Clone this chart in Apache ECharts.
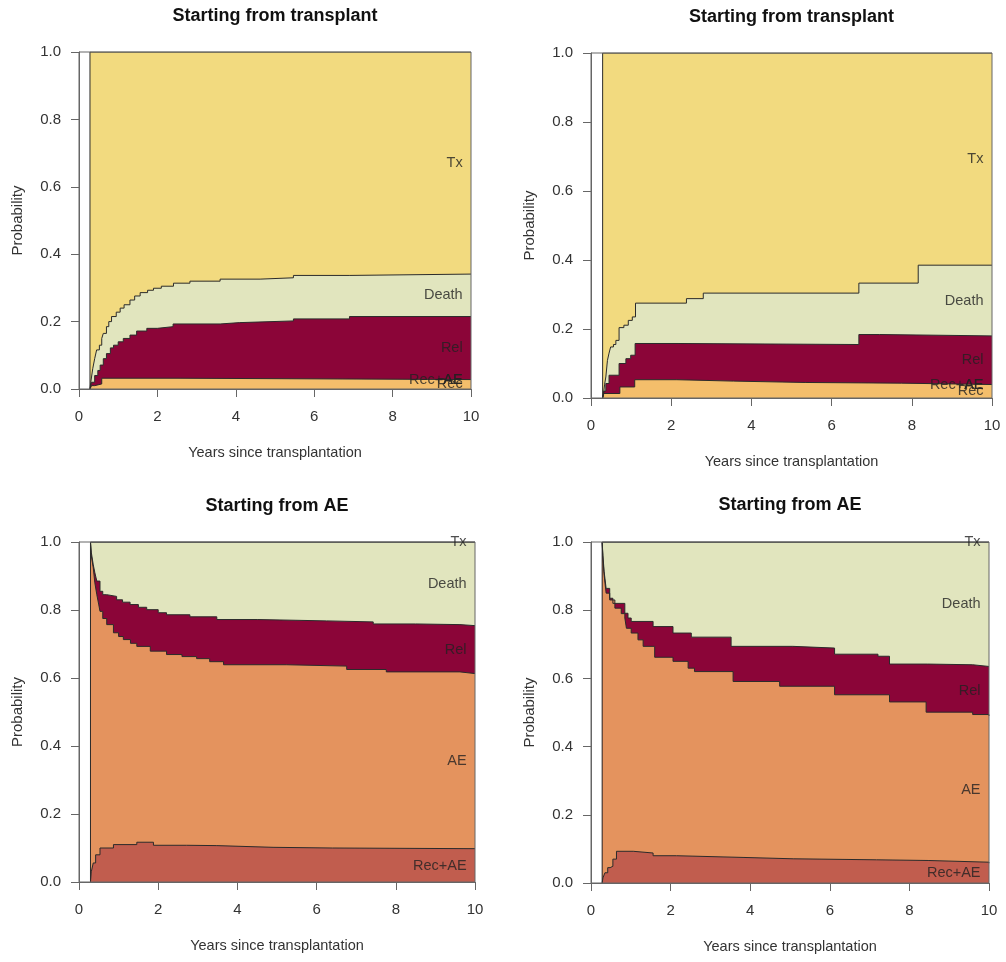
<!DOCTYPE html>
<html>
<head>
<meta charset="utf-8">
<title>Stacked transition probabilities</title>
<script src="https://cdn.jsdelivr.net/npm/echarts@6/dist/echarts.min.js"></script>
<style>
  html, body { margin: 0; padding: 0; background: #fff; }
  #chart { width: 1006px; height: 962px; }
</style>
</head>
<body>
<div id="chart"></div>
<script>
// upper boundary of each state's band, [years, cumulative probability]
// panel 1: top left, starting from transplant
const p1Rec = [[0.28, 0], [0.32, 0.01], [0.4, 0.015], [0.58, 0.032], [2.5, 0.028], [10, 0.028]];
const p1Rel = [[0.28, 0], [0.32, 0.02], [0.4, 0.04], [0.48, 0.055], [0.54, 0.071], [0.62, 0.09], [0.7, 0.105],
    [0.8, 0.122], [0.88, 0.13], [1.0, 0.14], [1.13, 0.15], [1.3, 0.16], [1.47, 0.172], [1.73, 0.18], [2.0, 0.185],
    [2.4, 0.193], [3.6, 0.197], [4.1, 0.202], [5.47, 0.208], [6.9, 0.215], [10, 0.215]];
const p1Death = [[0.28, 0], [0.3, 0.02], [0.35, 0.06], [0.4, 0.09], [0.45, 0.116], [0.52, 0.13], [0.58, 0.15],
    [0.62, 0.165], [0.7, 0.185], [0.76, 0.2], [0.83, 0.215], [0.95, 0.228], [1.05, 0.24], [1.15, 0.25],
    [1.3, 0.264], [1.42, 0.276], [1.56, 0.286], [1.75, 0.293], [1.9, 0.299], [2.1, 0.305], [2.41, 0.314],
    [2.83, 0.32], [3.6, 0.326], [4.62, 0.33], [5.47, 0.337], [6.91, 0.341], [10, 0.341]];
const p1Tx = [[0.28, 0], [0.28, 1], [10, 1]];

// panel 2: top right, starting from transplant
const p2Rec = [[0.29, 0], [0.32, 0.013], [0.72, 0.032], [1.09, 0.053], [2.14, 0.049], [3.55, 0.045],
    [5.34, 0.043], [7.74, 0.039], [10, 0.039]];
const p2Rel = [[0.29, 0], [0.32, 0.02], [0.37, 0.042], [0.45, 0.066], [0.7, 0.1], [0.87, 0.114], [0.99, 0.124],
    [1.1, 0.158], [2.17, 0.155], [6.68, 0.184], [7.2, 0.18], [10, 0.18]];
const p2Death = [[0.29, 0], [0.31, 0.01], [0.34, 0.04], [0.37, 0.061], [0.41, 0.109], [0.45, 0.13], [0.49, 0.148],
    [0.56, 0.155], [0.62, 0.167], [0.7, 0.204], [0.82, 0.211], [0.93, 0.225], [1.03, 0.235], [1.11, 0.275],
    [2.38, 0.288], [2.8, 0.304], [6.68, 0.333], [8.16, 0.385], [10, 0.385]];
const p2Tx = [[0.29, 0], [0.29, 1], [10, 1]];

// panel 3: bottom left, starting from AE
const p3RecAe = [[0.29, 0], [0.31, 0.03], [0.36, 0.056], [0.42, 0.08], [0.53, 0.1], [0.87, 0.11], [1.46, 0.117],
    [1.88, 0.108], [2.72, 0.107], [3.48, 0.102], [4.9, 0.1], [6.4, 0.098], [10, 0.097]];
const p3Ae = [[0.29, 1], [0.31, 0.96], [0.36, 0.924], [0.4, 0.88], [0.45, 0.845], [0.5, 0.815], [0.53, 0.796],
    [0.6, 0.775], [0.7, 0.757], [0.87, 0.733], [1.0, 0.722], [1.12, 0.713], [1.3, 0.702], [1.46, 0.693],
    [1.8, 0.679], [2.21, 0.669], [2.6, 0.663], [2.97, 0.657], [3.3, 0.648], [3.65, 0.639], [5.24, 0.635],
    [6.76, 0.625], [7.76, 0.618], [9.62, 0.613], [10, 0.612]];
const p3Rel = [[0.29, 1], [0.31, 0.97], [0.36, 0.933], [0.4, 0.91], [0.45, 0.885], [0.53, 0.855], [0.6, 0.845],
    [0.7, 0.84], [0.95, 0.83], [1.1, 0.823], [1.29, 0.816], [1.5, 0.808], [1.71, 0.801], [2.0, 0.792],
    [2.21, 0.786], [2.8, 0.78], [3.48, 0.772], [4.5, 0.768], [6.25, 0.765], [7.43, 0.759], [8.5, 0.757],
    [9.62, 0.754], [10, 0.754]];
const p3Death = [[0.29, 1], [10, 1]];
const p3Tx = [[0.29, 0], [0.29, 1], [10, 1]];

// panel 4: bottom right, starting from AE
const p4RecAe = [[0.28, 0], [0.3, 0.015], [0.35, 0.03], [0.42, 0.045], [0.48, 0.049], [0.55, 0.07], [0.64, 0.093],
    [1.06, 0.088], [1.56, 0.08], [2.15, 0.075], [3.82, 0.071], [5.08, 0.068], [7.17, 0.066], [8.47, 0.061],
    [10, 0.058]];
const p4Ae = [[0.28, 1], [0.3, 0.95], [0.33, 0.903], [0.38, 0.85], [0.47, 0.83], [0.6, 0.806], [0.76, 0.79],
    [0.85, 0.777], [0.89, 0.747], [1.01, 0.733], [1.18, 0.713], [1.31, 0.694], [1.6, 0.662], [2.06, 0.65],
    [2.44, 0.63], [2.6, 0.62], [3.57, 0.591], [4.74, 0.577], [6.12, 0.552], [7.5, 0.531], [8.42, 0.501],
    [9.59, 0.494], [10, 0.49]];
const p4Rel = [[0.28, 1], [0.3, 0.96], [0.33, 0.913], [0.38, 0.864], [0.47, 0.835], [0.55, 0.82], [0.85, 0.791],
    [0.93, 0.777], [1.01, 0.767], [1.56, 0.752], [2.06, 0.733], [2.52, 0.721], [3.52, 0.694], [5.07, 0.689],
    [6.12, 0.671], [7.21, 0.665], [7.5, 0.642], [8.46, 0.64], [9.59, 0.635], [10, 0.635]];
const p4Death = [[0.28, 1], [10, 1]];
const p4Tx = [[0.28, 0], [0.28, 1], [10, 1]];

const xTicks = [0, 2, 4, 6, 8, 10];
const yTicks = [0, 0.2, 0.4, 0.6, 0.8, 1.0];

const colors = {
    Tx: '#f2da7f', Death: '#e1e5be', Rel: '#8b0538',
    AE: '#e4935e', 'Rec+AE': '#c15d4e', Rec: '#f4be6b'
};

const font = '"Liberation Sans", Arial, sans-serif';
const labelX = 9.8;

// bands listed bottom to top
const panels = [
    {
        title: 'Starting from transplant', titleTop: 7,
        grid: { left: 79, top: 52, width: 392, height: 337 },
        bands: [['Rec', p1Rec], ['Rec+AE', p1Rec], ['AE', p1Rec], ['Rel', p1Rel], ['Death', p1Death], ['Tx', p1Tx]]
    },
    {
        title: 'Starting from transplant', titleTop: 8,
        grid: { left: 591, top: 53, width: 401, height: 345 },
        bands: [['Rec', p2Rec], ['Rec+AE', p2Rec], ['AE', p2Rec], ['Rel', p2Rel], ['Death', p2Death], ['Tx', p2Tx]]
    },
    {
        title: 'Starting from AE', titleTop: 497,
        grid: { left: 79, top: 542, width: 396, height: 340 },
        bands: [['Rec+AE', p3RecAe], ['AE', p3Ae], ['Rel', p3Rel], ['Death', p3Death], ['Tx', p3Tx]]
    },
    {
        title: 'Starting from AE', titleTop: 496,
        grid: { left: 591, top: 542, width: 398, height: 341 },
        bands: [['Rec+AE', p4RecAe], ['AE', p4Ae], ['Rel', p4Rel], ['Death', p4Death], ['Tx', p4Tx]]
    }
];

const lastVal = arr => arr[arr.length - 1][1];

const option = {
    animation: false,
    backgroundColor: '#fff',
    title: [],
    grid: [],
    xAxis: [],
    yAxis: [],
    series: []
};

panels.forEach((p, i) => {
    const g = p.grid;
    option.title.push({
        text: p.title,
        left: g.left + g.width / 2,
        top: p.titleTop,
        textAlign: 'center',
        padding: 0,
        textStyle: { fontFamily: font, fontSize: 18, fontWeight: 'bold', color: '#111' }
    });
    option.grid.push(Object.assign({
        show: true, borderColor: '#666', borderWidth: 1,
        backgroundColor: 'transparent', z: 5
    }, g));
    option.xAxis.push({
        gridIndex: i, type: 'value', min: xTicks[0], max: xTicks[xTicks.length - 1], interval: 2,
        name: 'Years since transplantation', nameLocation: 'middle', nameGap: 56,
        nameTextStyle: { fontFamily: font, fontSize: 14.5, color: '#333' },
        axisLine: { show: true, lineStyle: { color: '#666', width: 1 } },
        axisTick: { show: true, inside: false, length: 8, lineStyle: { color: '#666' } },
        axisLabel: { margin: 20, fontFamily: font, fontSize: 15, color: '#333' },
        splitLine: { show: false },
        z: 5
    });
    option.yAxis.push({
        gridIndex: i, type: 'value', min: yTicks[0], max: yTicks[yTicks.length - 1], interval: 0.2,
        name: 'Probability', nameLocation: 'middle', nameGap: 54,
        nameTextStyle: { fontFamily: font, fontSize: 15, color: '#333' },
        axisLine: { show: true, lineStyle: { color: '#666', width: 1 } },
        axisTick: { show: true, inside: false, length: 8, lineStyle: { color: '#666' } },
        axisLabel: { margin: 18, fontFamily: font, fontSize: 15, color: '#333', formatter: v => v.toFixed(1) },
        splitLine: { show: false },
        z: 5
    });

    // filled areas, drawn from the top band down so each lower band paints over the one above
    for (let k = p.bands.length - 1; k >= 0; k--) {
        const [name, data] = p.bands[k];
        if (k > 0 && p.bands[k - 1][1] === data) continue; // zero-width band
        option.series.push({
            type: 'line', name: name, xAxisIndex: i, yAxisIndex: i,
            data: data, step: 'end', symbol: 'none', silent: true,
            lineStyle: { color: '#2b2b2b', width: 1 },
            areaStyle: { color: colors[name], opacity: 1 },
            z: 2
        });
    }

    // state labels in the middle of each band at the last time point
    const labels = p.bands.map(([name, data], k) => {
        const lower = k === 0 ? 0 : lastVal(p.bands[k - 1][1]);
        return { name: name, value: [labelX, (lower + lastVal(data)) / 2] };
    });
    option.series.push({
        type: 'scatter', xAxisIndex: i, yAxisIndex: i, silent: true,
        symbolSize: 1, itemStyle: { color: 'transparent' },
        data: labels,
        label: {
            show: true, position: 'left', distance: 0, formatter: '{b}',
            fontFamily: font, fontSize: 14.5, color: '#222'
        },
        z: 6
    });
});

const chart = echarts.init(document.getElementById('chart'), null, { renderer: 'canvas' });
chart.setOption(option);
window.addEventListener('resize', () => chart.resize());
</script>
</body>
</html>
